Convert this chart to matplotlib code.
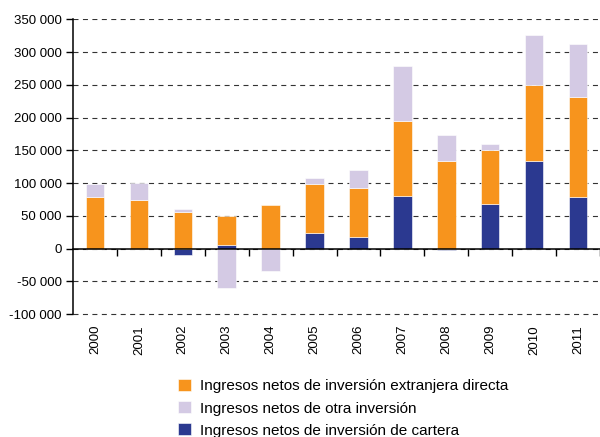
import matplotlib
matplotlib.use("Agg")
import matplotlib.pyplot as plt
import numpy as np
from matplotlib.ticker import FuncFormatter, FixedLocator

plt.rcParams['font.family'] = ['Liberation Sans', 'DejaVu Sans']

years = ["2000", "2001", "2002", "2003", "2004", "2005", "2006",
         "2007", "2008", "2009", "2010", "2011"]
ied = [79000, 74000, 56000, 44000, 67000, 75000, 75500, 114600, 134000, 82000, 115000, 153000]
otra = [19500, 26000, 4000, -60000, -34000, 9000, 28000, 83600, 38800, 9000, 77000, 80500]
cartera = [0, 0, -10000, 5000, 0, 23000, 17000, 80400, -2500, 68000, 134000, 78400]

labels = ["Ingresos netos de inversión extranjera directa",
          "Ingresos netos de otra inversión",
          "Ingresos netos de inversión de cartera"]
colors = ["#F7941D", "#D4CAE4", "#2B3990"]

fig = plt.figure(figsize=(6, 4.37), dpi=100)
ax = fig.add_axes([73/600, 1-316/437, 527/600, (316-19.3)/437])

x = np.arange(len(years))
w = 0.42
pos_base = np.zeros(len(years))
neg_base = np.zeros(len(years))
handles = {}
for name, vals, col in [("c", cartera, colors[2]), ("i", ied, colors[0]), ("o", otra, colors[1])]:
    v = np.array(vals, dtype=float)
    base = np.where(v >= 0, pos_base, neg_base)
    b = ax.bar(x, v, w, bottom=base, color=col, edgecolor="white", linewidth=0.4, zorder=3)
    handles[name] = b
    pos_base = pos_base + np.where(v >= 0, v, 0)
    neg_base = neg_base + np.where(v < 0, v, 0)

ax.set_xlim(-0.5, len(years) - 0.5)
ax.set_ylim(-103000, 350000)
ax.set_yticks(np.arange(-100000, 350001, 50000))
ax.yaxis.set_major_formatter(FuncFormatter(lambda v, p: f"{int(v):,}".replace(",", " ")))
ax.grid(axis="y", color="#333333", linestyle=(0, (4.5, 4)), linewidth=0.8, zorder=0)
ax.tick_params(axis="y", direction="out", length=5, width=1, labelsize=9.5, pad=3)

for s in ["top", "right"]:
    ax.spines[s].set_visible(False)
ax.spines["left"].set_linewidth(1.1)
ax.spines["left"].set_bounds(-100000, 350000)
ax.spines["bottom"].set_position(("data", 0))
ax.spines["bottom"].set_linewidth(1.1)
ax.spines["bottom"].set_zorder(4)

ax.set_xticks(x)
ax.set_xticklabels(years, rotation=90, fontsize=9.5)
ax.xaxis.set_minor_locator(FixedLocator(np.arange(0.5, len(years), 1.0)))
ax.tick_params(axis="x", which="major", length=0, pad=55)
ax.tick_params(axis="x", which="minor", direction="out", length=5, width=1)

fig.legend([handles["i"], handles["o"], handles["c"]], labels,
           loc="upper left", bbox_to_anchor=(172/600, 1-373/437),
           frameon=False, fontsize=11, handlelength=0.85, handleheight=0.85,
           handletextpad=0.55, labelspacing=0.5, borderaxespad=0)

fig.savefig("out.png", dpi=100)
